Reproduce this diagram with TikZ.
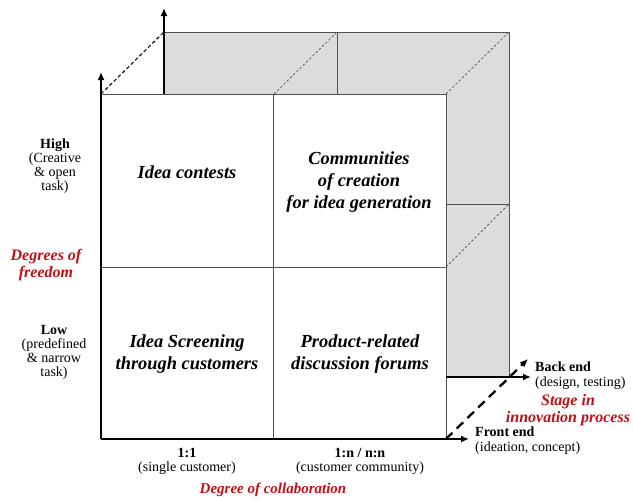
\documentclass[tikz,border=0pt]{standalone}
\usepackage{fontspec}
\setmainfont{Liberation Serif}
\usetikzlibrary{arrows.meta}
\definecolor{labelred}{RGB}{195,14,20}
\definecolor{panelgrey}{RGB}{220,220,220}
\definecolor{edgegrey}{RGB}{80,80,80}
\definecolor{dashgrey}{RGB}{100,100,100}

\begin{document}
\begin{tikzpicture}[x=1pt,y=-1pt,
  edge/.style={draw=edgegrey, line width=0.9pt},
  cell/.style={edge, fill=white, minimum width=172.5pt, minimum height=172.5pt, inner sep=0pt},
  depth/.style={draw=dashgrey, line width=0.8pt, dash pattern=on 2.5pt off 2pt},
  depthdark/.style={draw=black!85, line width=1.3pt, dash pattern=on 3.5pt off 2.5pt},
  axis/.style={draw=black, line width=2.3pt, -{Latex[length=8pt,width=7pt]}},
  depthaxis/.style={axis, dash pattern=on 9pt off 6pt},
  quad/.style={font=\fontsize{18.4}{21.7}\selectfont\bfseries\itshape, align=center, inner sep=0pt},
  small/.style={font=\fontsize{14}{14}\selectfont, align=center, inner sep=0pt},
  smallleft/.style={font=\fontsize{14}{15}\selectfont, align=left, inner sep=0pt, anchor=west},
  axislabel/.style={text=labelred, font=\fontsize{16}{17}\selectfont\bfseries\itshape, align=center, inner sep=0pt}
]
\useasboundingbox (0,0) rectangle (633,501);

% corners of the back face
\coordinate (btl) at (164,32);
\coordinate (btm) at (337,32);
\coordinate (btr) at (509,32);
\coordinate (bmr) at (509,204);
\coordinate (bbr) at (509,377);
\coordinate (bmi) at (337,94);
\coordinate (bri) at (446,204);
\coordinate (bbi) at (446,377);
\coordinate (bli) at (164,94);
% corners of the front face
\coordinate (ftl) at (101,94);
\coordinate (ftm) at (274,94);
\coordinate (ftr) at (446,94);
\coordinate (fmr) at (446,267);
\coordinate (fbl) at (101,439);
\coordinate (fbr) at (446,439);
% arrow tips
\coordinate (fytip) at (101,72);
\coordinate (fxtip) at (469,439);
\coordinate (bytip) at (164,8);
\coordinate (bxtip) at (531,377);
\coordinate (ztip) at (528,359);

% back face, visible part shaded
\fill[panelgrey] (btl) -- (btr) -- (bbr) -- (bbi) -- (ftr) -- (bli) -- cycle;
\draw[edge] (btl) -- (btr) -- (bbr);
\draw[edge] (btm) -- (bmi);
\draw[edge] (bri) -- (bmr);

% receding edges
\draw[depth] (ftm) -- (btm);
\draw[depth] (ftr) -- (btr);
\draw[depth] (fmr) -- (bmr);
\draw[depthdark] (ftl) -- (btl);

% front face: four cells
\node[cell] (c11) at (187.25,180.75) {};
\node[cell] (c12) at (359.75,180.75) {};
\node[cell] (c21) at (187.25,353.25) {};
\node[cell] (c22) at (359.75,353.25) {};

% axes
\draw[axis] (fbl) -- (fytip);
\draw[axis] (fbl) -- (fxtip);
\draw[axis] (bli) -- (bytip);
\draw[axis] (bbi) -- (bxtip);
\draw[depthaxis] (fbr) -- (ztip);

% cell texts
\node[quad] (t11) at (187,172) {Idea contests};
\node[quad] (t12) at (359,182) {Communities\\of creation\\for idea generation};
\node[quad] (t21) at (187,354) {Idea Screening\\through customers};
\node[quad] (t22) at (360,354) {Product-related\\discussion forums};

% freedom axis
\node[small] (high) at (55,166) {\textbf{High}\\(Creative\\\& open\\task)};
\node[small] (low) at (54,352) {\textbf{Low}\\(predefined\\\& narrow\\task)};
\node[axislabel] (freedom) at (46,265) {Degrees of\\freedom};

% collaboration axis
\node[small] (one) at (187,461) {\textbf{1:1}\\(single customer)};
\node[small] (many) at (360,461) {\textbf{1:n / n:n}\\(customer community)};
\node[axislabel, font=\fontsize{15}{16}\selectfont\bfseries\itshape] (collab) at (273,490) {Degree of collaboration};

% stage axis
\node[smallleft] (back) at (535,376) {\textbf{Back end}\\(design, testing)};
\node[axislabel] (stage) at (568,410) {Stage in\\innovation process};
\node[smallleft] (front) at (475,441) {\textbf{Front end}\\(ideation, concept)};
\end{tikzpicture}
\end{document}
